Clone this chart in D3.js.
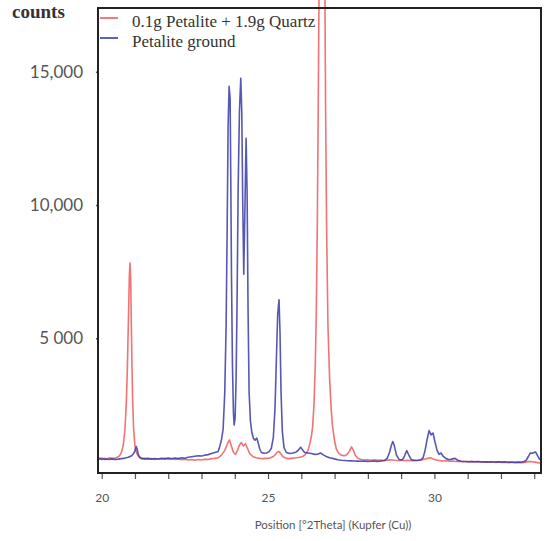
<!DOCTYPE html>
<html>
<head>
<meta charset="utf-8">
<script src="https://cdn.jsdelivr.net/npm/d3@7/dist/d3.min.js"></script>
<style>
  html, body { margin: 0; padding: 0; background: #fff; }
  svg { display: block; }
</style>
</head>
<body>
<svg id="chart" width="550" height="541"></svg>
<script>
// ---------- data ----------
const seriesNames = ["0.1g Petalite + 1.9g Quartz", "Petalite ground"];

const redTheta = [19.89,19.95,20.00,20.05,20.10,20.15,20.20,20.25,20.30,20.35,20.40,20.45,20.50,20.55,20.60,20.65,20.70,20.74,20.77,20.80,20.83,20.85,20.87,20.89,20.91,20.93,20.96,21.00,21.05,21.10,21.15,21.20,21.30,21.40,21.50,21.60,21.70,21.80,21.90,22.00,22.10,22.20,22.30,22.40,22.50,22.60,22.70,22.80,22.90,23.00,23.10,23.20,23.30,23.40,23.50,23.60,23.70,23.78,23.84,23.90,23.96,24.02,24.08,24.14,24.20,24.26,24.32,24.38,24.45,24.55,24.65,24.75,24.85,24.95,25.05,25.15,25.22,25.28,25.33,25.38,25.45,25.55,25.65,25.75,25.85,25.95,26.05,26.12,26.20,26.26,26.30,26.34,26.38,26.42,26.45,26.48,26.51,26.53,26.57,26.62,26.66,26.69,26.71,26.73,26.76,26.80,26.85,26.90,26.94,27.00,27.05,27.12,27.20,27.30,27.38,27.45,27.51,27.56,27.62,27.70,27.80,27.90,28.00,28.10,28.20,28.30,28.40,28.50,28.60,28.70,28.80,28.90,29.00,29.10,29.20,29.30,29.40,29.50,29.60,29.70,29.80,29.88,29.96,30.05,30.15,30.25,30.35,30.45,30.55,30.65,30.75,30.85,30.95,31.05,31.15,31.25,31.35,31.45,31.55,31.65,31.75,31.85,31.95,32.05,32.15,32.25,32.35,32.45,32.55,32.65,32.75,32.85,32.95,33.05,33.15,33.20];
const redCounts = [520,495,510,488,505,478,500,522,492,510,498,530,560,620,750,1000,1600,2600,3800,5500,7300,7820,7300,5600,4000,2700,1600,950,700,580,520,480,500,470,495,460,485,470,500,465,490,455,480,450,470,440,460,430,455,440,470,460,490,500,520,620,800,1050,1190,950,720,650,800,1000,1090,960,1050,880,680,560,520,500,490,500,510,560,640,740,760,680,560,500,490,510,520,540,580,640,800,1070,1300,1690,2500,4000,6000,9200,14000,17500,32000,48000,45000,28000,18000,13500,9200,5500,3500,2300,1690,1150,860,700,620,600,650,780,930,820,620,500,460,440,450,430,445,425,440,420,435,445,430,420,435,415,430,410,425,420,440,470,500,520,480,440,420,400,410,390,400,380,395,375,390,370,385,365,380,360,375,355,370,350,365,345,360,340,355,335,350,340,360,380,370,350,330,325];

const blueTheta = [19.89,19.95,20.00,20.05,20.10,20.15,20.20,20.30,20.40,20.50,20.60,20.70,20.80,20.90,20.96,21.00,21.04,21.07,21.10,21.15,21.20,21.30,21.40,21.50,21.60,21.70,21.80,21.90,22.00,22.10,22.20,22.30,22.40,22.50,22.60,22.70,22.80,22.90,23.00,23.10,23.20,23.30,23.40,23.50,23.55,23.60,23.65,23.70,23.74,23.77,23.80,23.83,23.86,23.88,23.90,23.93,23.96,23.98,24.01,24.04,24.07,24.10,24.14,24.18,24.21,24.24,24.27,24.30,24.34,24.37,24.40,24.43,24.47,24.51,24.56,24.61,24.66,24.70,24.75,24.80,24.88,24.96,25.04,25.10,25.16,25.21,25.25,25.29,25.33,25.36,25.39,25.43,25.48,25.55,25.65,25.75,25.85,25.92,25.98,26.04,26.10,26.20,26.30,26.40,26.50,26.58,26.66,26.75,26.85,27.00,27.10,27.20,27.30,27.40,27.50,27.60,27.70,27.80,27.90,28.00,28.10,28.20,28.30,28.40,28.50,28.58,28.65,28.71,28.75,28.80,28.86,28.94,29.02,29.08,29.13,29.17,29.22,29.30,29.40,29.50,29.60,29.66,29.72,29.78,29.84,29.90,29.96,30.02,30.08,30.14,30.20,30.26,30.35,30.45,30.55,30.62,30.70,30.80,30.90,31.00,31.10,31.20,31.30,31.40,31.50,31.60,31.70,31.80,31.90,32.00,32.10,32.20,32.30,32.40,32.50,32.60,32.70,32.76,32.82,32.88,32.94,33.00,33.04,33.10,33.16,33.20];
const blueCounts = [470,490,460,485,455,475,460,480,455,470,490,510,545,600,680,790,940,830,640,540,500,480,500,470,495,475,505,480,510,485,515,490,520,500,540,560,580,600,590,620,640,680,720,760,950,1200,1600,3000,5500,9000,13000,14450,14000,11000,7500,4000,2200,1750,2000,3500,6500,10500,13500,14750,13500,10000,7400,9500,12500,10500,6000,3000,1900,1500,1250,1180,1260,1100,850,720,690,700,760,880,1300,2400,4200,5900,6450,5200,3000,1500,900,720,680,700,740,820,920,810,720,700,680,650,660,700,630,570,520,480,450,430,420,410,405,400,395,390,395,385,390,395,385,400,420,500,720,1000,1130,950,620,460,440,520,680,790,650,460,420,430,450,520,800,1200,1540,1380,1450,1100,800,650,700,580,490,450,480,500,430,390,380,375,385,370,380,365,375,360,370,365,375,360,370,355,365,350,360,355,380,430,560,700,690,720,740,600,470,440];

const xTickValues = [20,21,22,23,24,25,26,27,28,29,30,31,32,33];
const xLabelValues = [20,25,30];
const yTickValues = [5000,10000,15000];
const yTickLabels = ["5 000","10,000","15,000"];
const seriesColors = ["#ee5a5a","#3a3aa8"];

// ---------- layout ----------
const svg = d3.select("#chart");
const mLeft = 98, mRight = 541, mTop = 8, mBottom = 473;

const x = d3.scaleLinear().domain([19.889, 33.204]).range([mLeft, mRight]);
const y = d3.scaleLinear().domain([-49, 17387]).range([mBottom, mTop]);

// x axis
const xAxis = d3.axisBottom(x)
  .tickValues(xTickValues)
  .tickSize(6)
  .tickPadding(14)
  .tickFormat(d => xLabelValues.includes(d) ? String(d) : "");
const gx = svg.append("g").attr("transform", `translate(0,${mBottom})`).call(xAxis);
gx.select(".domain").remove();
gx.selectAll(".tick line").attr("stroke", "#555").attr("stroke-width", 1.2);
gx.selectAll(".tick text").attr("fill", "#555").style("font-family", "Lato, 'Open Sans', sans-serif").style("font-size", "12px");

// y axis
const yAxis = d3.axisLeft(y)
  .tickValues(yTickValues)
  .tickSize(2)
  .tickPadding(13)
  .tickFormat((d, i) => yTickLabels[i]);
const gy = svg.append("g").attr("transform", `translate(${mLeft},0)`).call(yAxis);
gy.select(".domain").remove();
gy.selectAll(".tick line").attr("stroke", "#555").attr("stroke-width", 1.5);
gy.selectAll(".tick text").attr("fill", "#555").style("font-family", "Lato, 'Open Sans', sans-serif").style("font-size", "17px");

// lines
const line = d3.line().x(d => x(d[0])).y(d => y(d[1]));
const redData = redTheta.map((t, i) => [t, redCounts[i]]);
const blueData = blueTheta.map((t, i) => [t, blueCounts[i]]);

svg.append("path").datum(redData)
  .attr("d", line).attr("fill", "none")
  .attr("stroke", seriesColors[0]).attr("stroke-width", 1.6).attr("stroke-linejoin", "round").attr("stroke-opacity", 0.85);
svg.append("path").datum(blueData)
  .attr("d", line).attr("fill", "none")
  .attr("stroke", seriesColors[1]).attr("stroke-width", 1.6).attr("stroke-linejoin", "round").attr("stroke-opacity", 0.85);

// frame
svg.append("rect")
  .attr("x", mLeft).attr("y", mTop).attr("width", mRight - mLeft).attr("height", mBottom - mTop)
  .attr("fill", "none").attr("stroke", "#222").attr("stroke-width", 2);

// legend
const legend = svg.append("g");
seriesNames.forEach((name, i) => {
  const ly = 18 + i * 20;
  legend.append("line").attr("x1", 100).attr("x2", 118).attr("y1", ly).attr("y2", ly)
    .attr("stroke", seriesColors[i]).attr("stroke-width", 1.6);
  legend.append("text").attr("x", 132).attr("y", ly + 9).text(name)
    .attr("fill", "#333").style("font-family", "'Liberation Serif', 'Times New Roman', serif").style("font-size", "17px");
});

// y label
svg.append("text").attr("x", 12).attr("y", 18).text("counts")
  .attr("fill", "#333").style("font-family", "'Liberation Serif', 'Times New Roman', serif")
  .style("font-size", "19px").style("font-weight", "bold");

// x title
svg.append("text").attr("x", 333).attr("y", 529).attr("text-anchor", "middle")
  .text("Position [°2Theta] (Kupfer (Cu))")
  .attr("fill", "#555").style("font-family", "Lato, 'Open Sans', sans-serif").style("font-size", "11.5px");
</script>
</body>
</html>
